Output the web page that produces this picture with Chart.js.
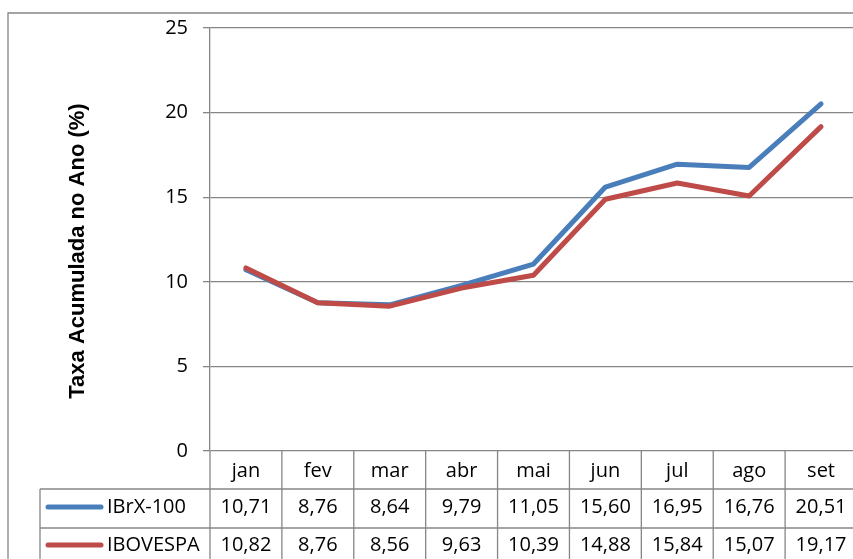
<!DOCTYPE html>
<html>
<head>
<meta charset="utf-8">
<script src="https://cdn.jsdelivr.net/npm/chart.js@4.4.1/dist/chart.umd.min.js"></script>
<style>
  html, body { margin: 0; padding: 0; background: #fff; overflow: hidden; }
  canvas { display: block; }
</style>
</head>
<body>
<canvas id="linechart" width="870" height="559"></canvas>
<script>
const months = ['jan', 'fev', 'mar', 'abr', 'mai', 'jun', 'jul', 'ago', 'set'];
const ibrx = [10.71, 8.76, 8.64, 9.79, 11.05, 15.60, 16.95, 16.76, 20.51];
const ibov = [10.82, 8.76, 8.56, 9.63, 10.39, 14.88, 15.84, 15.07, 19.17];
const seriesNames = ['IBrX-100', 'IBOVESPA'];
const seriesColors = ['#4A7EBB', '#BE4B48'];
const yTitle = 'Taxa Acumulada no Ano (%)';

const gray = '#868686';
const fmt = v => v.toFixed(2).replace('.', ',');

// frame, axis title and the data table under the plot
const tablePlugin = {
  id: 'tablePlugin',
  afterDraw(chart) {
    const c = chart.ctx;
    const x = chart.scales.x;
    const area = chart.chartArea;
    const n = months.length;
    const colW = (x.right - x.left) / n;
    const bottom = chart.height;
    const rowTop = [area.bottom, 489, 528];

    c.save();
    c.strokeStyle = gray;
    c.lineWidth = 1.3;

    // outer chart border
    c.beginPath();
    c.moveTo(8, bottom);
    c.lineTo(8, 13);
    c.lineTo(chart.width, 13);
    c.stroke();

    // table grid
    c.beginPath();
    c.moveTo(area.left, area.bottom);
    c.lineTo(area.left, bottom);
    for (let i = 1; i <= n; i++) {
      const ex = x.left + i * colW;
      c.moveTo(ex, area.bottom);
      c.lineTo(ex, bottom);
    }
    c.moveTo(40, rowTop[1]);
    c.lineTo(40, bottom);
    c.moveTo(40, rowTop[1]);
    c.lineTo(x.right, rowTop[1]);
    c.moveTo(40, rowTop[2]);
    c.lineTo(x.right, rowTop[2]);
    c.stroke();

    // text
    c.fillStyle = '#000';
    c.font = '20px "Open Sans"';
    c.textAlign = 'center';
    c.textBaseline = 'alphabetic';
    const baselines = [477, 513, 551];
    months.forEach((m, i) => c.fillText(m, x.getPixelForValue(i), baselines[0]));
    [ibrx, ibov].forEach((vals, r) => {
      vals.forEach((v, i) => c.fillText(fmt(v), x.getPixelForValue(i), baselines[r + 1]));
    });

    // legend keys
    const keyY = [507, 545];
    seriesNames.forEach((name, r) => {
      c.strokeStyle = seriesColors[r];
      c.lineWidth = 5;
      c.lineCap = 'round';
      c.beginPath();
      c.moveTo(48, keyY[r]);
      c.lineTo(101, keyY[r]);
      c.stroke();
      c.textAlign = 'left';
      c.fillText(name, 107, baselines[r + 1]);
    });

    // y axis title
    c.translate(78, 251);
    c.rotate(-Math.PI / 2);
    c.font = 'bold 22px "Liberation Sans", Arial, sans-serif';
    c.textAlign = 'center';
    c.textBaseline = 'middle';
    c.fillText(yTitle, 0, 0);
    c.restore();
  }
};

new Chart(document.getElementById('linechart'), {
  type: 'line',
  data: {
    labels: months,
    datasets: [
      {
        label: seriesNames[0],
        data: ibrx,
        borderColor: seriesColors[0],
        borderWidth: 5,
        order: 1
      },
      {
        label: seriesNames[1],
        data: ibov,
        borderColor: seriesColors[1],
        borderWidth: 5,
        order: 0
      }
    ]
  },
  options: {
    responsive: false,
    devicePixelRatio: 1,
    animation: false,
    elements: {
      point: { radius: 0 },
      line: { tension: 0, borderCapStyle: 'round', borderJoinStyle: 'round' }
    },
    layout: { padding: { left: 0, top: 28, right: 13, bottom: 108 } },
    plugins: { legend: { display: false }, tooltip: { enabled: false } },
    scales: {
      x: { type: 'category', offset: true, display: false },
      y: {
        min: 0,
        max: 25,
        ticks: {
          stepSize: 5,
          padding: 15,
          color: '#000',
          font: { family: 'Open Sans', size: 20 }
        },
        grid: { color: gray, lineWidth: 1.3, tickLength: 7 },
        border: { color: gray, width: 1.3 },
        afterFit(scale) { scale.width = 210; }
      }
    }
  },
  plugins: [tablePlugin]
});
</script>
</body>
</html>
